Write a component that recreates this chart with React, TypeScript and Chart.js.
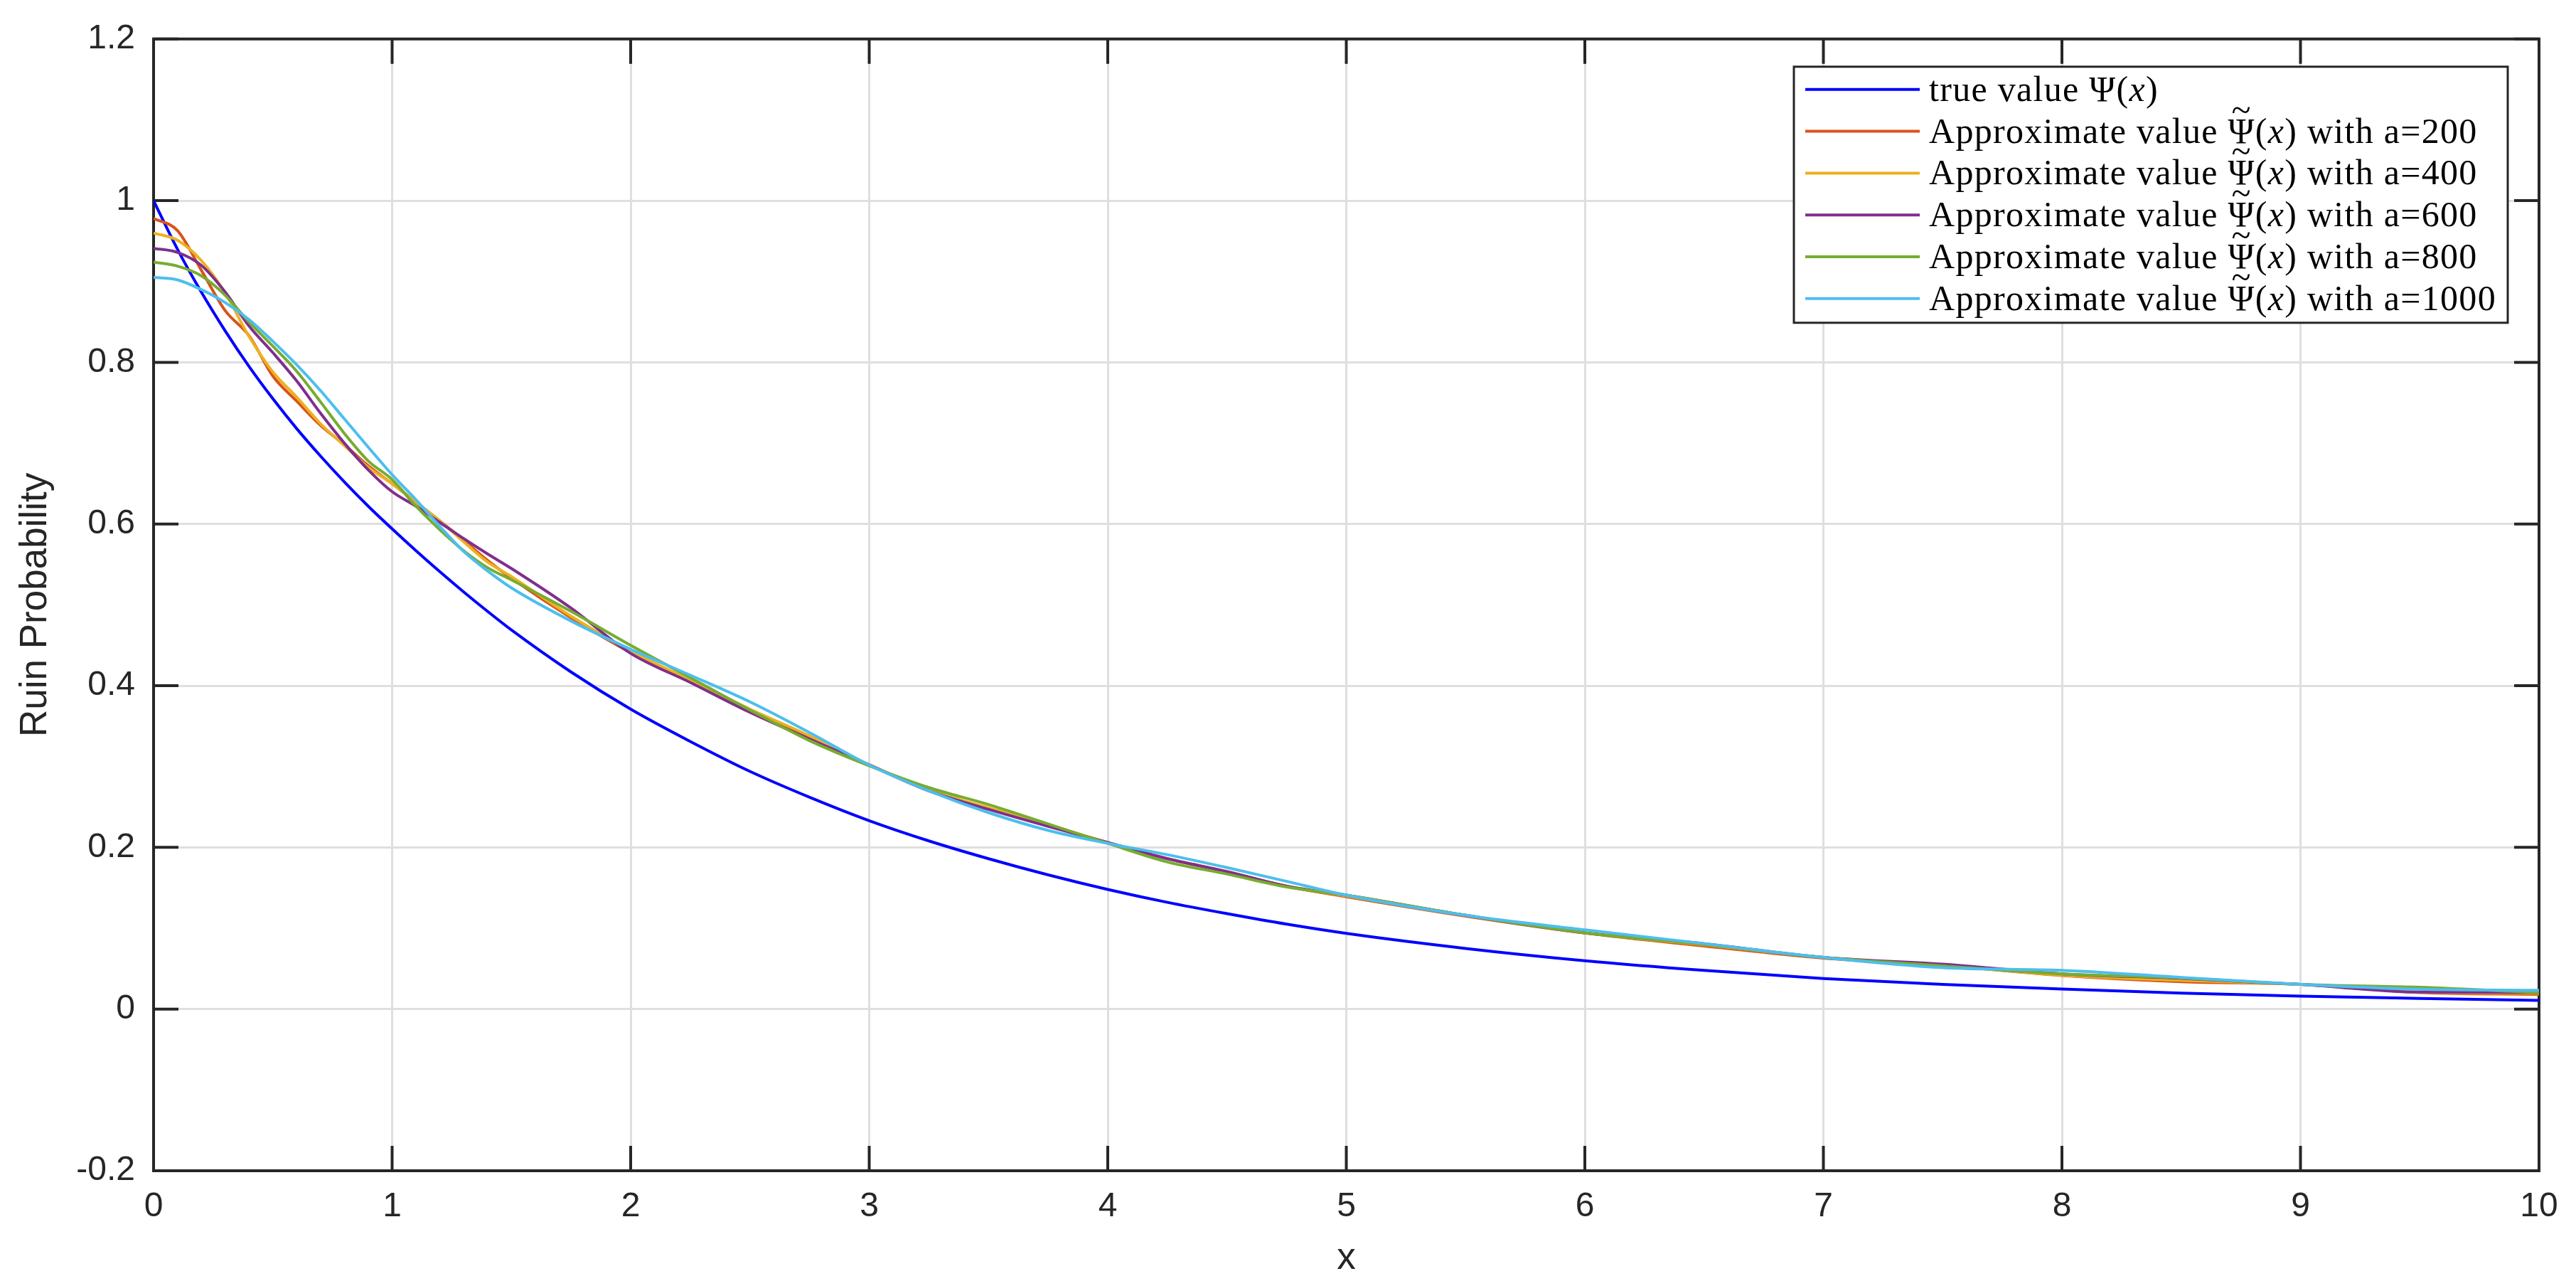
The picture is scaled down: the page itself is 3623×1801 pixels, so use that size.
import React, { useEffect, useRef } from "react";
import { Chart, registerables } from "chart.js";

Chart.register(...registerables);

// ---------- data ----------
const X_VALUES = [
  0, 0.1, 0.2, 0.3, 0.4, 0.5, 0.6, 0.7, 0.8, 0.9, 1.0, 1.1, 1.2, 1.3, 1.4, 1.5,
  1.75, 2, 2.25, 2.5, 2.75, 3, 3.25, 3.5, 3.75, 4, 4.25, 4.5, 4.75, 5,
  5.5, 6, 6.5, 7, 7.5, 8, 8.5, 9, 9.5, 10,
];

const TRUE_VALUES = [
  1.0, 0.94, 0.887, 0.839, 0.795, 0.755, 0.718, 0.684, 0.652, 0.622, 0.594, 0.567, 0.541, 0.516, 0.492, 0.469,
  0.417, 0.371, 0.331, 0.294, 0.262, 0.233, 0.208, 0.186, 0.166, 0.148, 0.132, 0.118, 0.105, 0.0936,
  0.075, 0.0598, 0.0478, 0.0378, 0.0305, 0.0247, 0.0198, 0.016, 0.0132, 0.0107,
];

const APPROX_A200 = [
  0.978, 0.963, 0.914, 0.864, 0.833, 0.783, 0.752, 0.722, 0.698, 0.672, 0.65, 0.627, 0.604, 0.58, 0.555, 0.533,
  0.484, 0.441, 0.406, 0.369, 0.336, 0.302, 0.27, 0.248, 0.227, 0.206, 0.186, 0.17, 0.152, 0.139,
  0.115, 0.094, 0.078, 0.063, 0.054, 0.0416, 0.0339, 0.0305, 0.0205, 0.0183,
];

const APPROX_A400 = [
  0.96, 0.951, 0.926, 0.886, 0.832, 0.788, 0.757, 0.724, 0.697, 0.67, 0.65, 0.627, 0.604, 0.578, 0.553, 0.535,
  0.486, 0.443, 0.407, 0.371, 0.338, 0.302, 0.271, 0.249, 0.228, 0.206, 0.186, 0.17, 0.152, 0.14,
  0.116, 0.0944, 0.0795, 0.0639, 0.054, 0.042, 0.0355, 0.0305, 0.021, 0.0195,
];

const APPROX_A600 = [
  0.941, 0.936, 0.92, 0.887, 0.845, 0.812, 0.777, 0.737, 0.7, 0.667, 0.64, 0.622, 0.602, 0.582, 0.563, 0.545,
  0.496, 0.44, 0.404, 0.367, 0.334, 0.302, 0.27, 0.247, 0.226, 0.206, 0.186, 0.17, 0.152, 0.141,
  0.116, 0.0944, 0.081, 0.0639, 0.0555, 0.0436, 0.038, 0.0305, 0.021, 0.0205,
];

const APPROX_A800 = [
  0.924, 0.919, 0.907, 0.883, 0.85, 0.82, 0.789, 0.751, 0.712, 0.678, 0.655, 0.622, 0.593, 0.567, 0.546, 0.531,
  0.492, 0.45, 0.41, 0.37, 0.332, 0.301, 0.274, 0.253, 0.229, 0.205, 0.182, 0.167, 0.151, 0.141,
  0.116, 0.0944, 0.08, 0.0639, 0.0535, 0.0436, 0.0385, 0.0305, 0.027, 0.0203,
];

const APPROX_A1000 = [
  0.905, 0.902, 0.89, 0.874, 0.853, 0.826, 0.797, 0.765, 0.73, 0.695, 0.661, 0.63, 0.597, 0.566, 0.542, 0.521,
  0.48, 0.445, 0.413, 0.38, 0.342, 0.302, 0.27, 0.243, 0.221, 0.205, 0.191, 0.175, 0.158, 0.141,
  0.116, 0.098, 0.081, 0.0639, 0.0512, 0.0479, 0.0392, 0.0305, 0.0245, 0.0232,
];

const SERIES_LABELS = [
  "true value Ψ(x)",
  "Approximate value Ψ̃(x) with a=200",
  "Approximate value Ψ̃(x) with a=400",
  "Approximate value Ψ̃(x) with a=600",
  "Approximate value Ψ̃(x) with a=800",
  "Approximate value Ψ̃(x) with a=1000",
];

const SERIES_COLORS = ["#0000FF", "#D95319", "#EDB120", "#7E2F8E", "#77AC30", "#4DBEEE"];

const X_TICKS = [0, 1, 2, 3, 4, 5, 6, 7, 8, 9, 10];
const Y_TICKS = [-0.2, 0, 0.2, 0.4, 0.6, 0.8, 1.0, 1.2];

const X_TITLE = "x";
const Y_TITLE = "Ruin Probability";

// ---------- styling ----------
const SANS = '"Liberation Sans", Arial, Helvetica, sans-serif';
const SERIF = '"Liberation Serif", "Times New Roman", serif';
const AXIS_COLOR = "#262626";
const GRID_COLOR = "#dfdfdf";
const TICK_LEN = 35;
const LEGEND_FONT = 50;
const LEGEND_TARGET_W = 798;

function fmt(v: number): string {
  return String(Number(v.toFixed(1)));
}

// draws (or measures) a legend label with a math-style Ψ / Ψ̃ and italic x
function richText(ctx: CanvasRenderingContext2D, label: string, x: number, y: number, size: number, draw: boolean): number {
  const m = label.match(/^(.*?)(Ψ\u0303|Ψ)\(x\)(.*)$/);
  const regular = `${size}px ${SERIF}`;
  const italic = `italic ${size}px ${SERIF}`;
  let cx = x;
  const seg = (t: string, f: string) => {
    ctx.font = f;
    if (draw) ctx.fillText(t, cx, y);
    cx += ctx.measureText(t).width;
  };
  if (!m) {
    seg(label, regular);
    return cx - x;
  }
  seg(m[1], regular);
  const psiStart = cx;
  seg("Ψ", regular);
  if (m[2] !== "Ψ" && draw) {
    ctx.font = regular;
    const w = ctx.measureText("Ψ").width;
    const prevAlign = ctx.textAlign;
    ctx.textAlign = "center";
    ctx.fillText("~", psiStart + w / 2, y - size * 0.6);
    ctx.textAlign = prevAlign;
  }
  seg("(", regular);
  seg("x", italic);
  seg(")", regular);
  seg(m[3], regular);
  return cx - x;
}

const framePlugin = {
  id: "matlabFrame",
  beforeDatasetsDraw(chart: any) {
    const { ctx, chartArea } = chart;
    const { left, right, top, bottom } = chartArea;
    const xs = chart.scales.x;
    const ys = chart.scales.y;
    ctx.save();
    ctx.strokeStyle = AXIS_COLOR;
    ctx.lineWidth = 4;
    ctx.beginPath();
    X_TICKS.forEach((v) => {
      const px = xs.getPixelForValue(v);
      ctx.moveTo(px, bottom);
      ctx.lineTo(px, bottom - TICK_LEN);
      ctx.moveTo(px, top);
      ctx.lineTo(px, top + TICK_LEN);
    });
    Y_TICKS.forEach((v) => {
      const py = ys.getPixelForValue(v);
      ctx.moveTo(left, py);
      ctx.lineTo(left + TICK_LEN, py);
      ctx.moveTo(right, py);
      ctx.lineTo(right - TICK_LEN, py);
    });
    ctx.stroke();
    ctx.strokeRect(left, top, right - left, bottom - top);
    ctx.restore();
  },
};

const legendPlugin = {
  id: "boxLegend",
  afterDatasetsDraw(chart: any) {
    const { ctx, chartArea } = chart;
    const boxRight = chartArea.right - 44;
    const boxTop = chartArea.top + 39;
    const boxW = 1004;
    const boxH = 360;
    const boxLeft = boxRight - boxW;
    ctx.save();
    ctx.fillStyle = "#ffffff";
    ctx.fillRect(boxLeft, boxTop, boxW, boxH);
    ctx.strokeStyle = AXIS_COLOR;
    ctx.lineWidth = 3;
    ctx.strokeRect(boxLeft, boxTop, boxW, boxH);

    // letter spacing so the longest entry has the reference width
    ctx.textAlign = "left";
    ctx.textBaseline = "alphabetic";
    (ctx as any).letterSpacing = "0px";
    let maxW = 0;
    let maxChars = 1;
    chart.data.datasets.forEach((ds: any) => {
      const w = richText(ctx, ds.label, 0, 0, LEGEND_FONT, false);
      if (w > maxW) {
        maxW = w;
        maxChars = ds.label.replace(/\u0303/g, "").length;
      }
    });
    const spacing = Math.max(0, (LEGEND_TARGET_W - maxW) / maxChars);
    (ctx as any).letterSpacing = `${spacing.toFixed(2)}px`;

    const rowH = 58.8;
    const firstY = boxTop + 32;
    chart.data.datasets.forEach((ds: any, i: number) => {
      const cy = firstY + i * rowH;
      ctx.strokeStyle = ds.borderColor;
      ctx.lineWidth = 4;
      ctx.beginPath();
      ctx.moveTo(boxLeft + 16, cy);
      ctx.lineTo(boxLeft + 177, cy);
      ctx.stroke();
      ctx.fillStyle = "#000000";
      richText(ctx, ds.label, boxLeft + 190, cy + 16, LEGEND_FONT, true);
    });
    ctx.restore();
  },
};

export default function App() {
  const ref = useRef<HTMLCanvasElement | null>(null);

  useEffect(() => {
    const canvas = ref.current;
    if (!canvas) return;
    const seriesValues = [TRUE_VALUES, APPROX_A200, APPROX_A400, APPROX_A600, APPROX_A800, APPROX_A1000];
    const datasets = seriesValues.map((vals, i) => ({
      label: SERIES_LABELS[i],
      data: X_VALUES.map((x, j) => ({ x, y: vals[j] })),
      borderColor: SERIES_COLORS[i],
      backgroundColor: SERIES_COLORS[i],
      borderWidth: 4,
      pointRadius: 0,
      pointHoverRadius: 0,
      fill: false,
      cubicInterpolationMode: "monotone" as const,
      order: seriesValues.length - i,
    }));

    const chart = new Chart(canvas, {
      type: "line",
      data: { datasets },
      plugins: [framePlugin, legendPlugin],
      options: {
        responsive: false,
        animation: false,
        devicePixelRatio: 1,
        layout: { padding: { left: 0, right: 52, top: 42, bottom: 0 } },
        plugins: {
          legend: { display: false },
          tooltip: { enabled: false },
          title: { display: false },
        },
        scales: {
          x: {
            type: "linear",
            position: "bottom",
            min: 0,
            max: 10,
            afterBuildTicks: (s: any) => {
              s.ticks = X_TICKS.map((v) => ({ value: v }));
            },
            afterFit: (s: any) => {
              s.height = 155;
            },
            grid: { color: GRID_COLOR, lineWidth: 3, drawTicks: false },
            border: { display: false },
            ticks: {
              autoSkip: false,
              maxRotation: 0,
              padding: 22,
              color: AXIS_COLOR,
              font: { family: SANS, size: 48 },
              callback: (v: any) => fmt(Number(v)),
            },
            title: {
              display: true,
              text: X_TITLE,
              color: AXIS_COLOR,
              font: { family: SANS, size: 53 },
              padding: { top: 0, bottom: 0 },
            },
          },
          y: {
            type: "linear",
            position: "left",
            min: -0.2,
            max: 1.2,
            afterBuildTicks: (s: any) => {
              s.ticks = Y_TICKS.map((v) => ({ value: v }));
            },
            afterFit: (s: any) => {
              s.width = 216;
            },
            grid: { color: GRID_COLOR, lineWidth: 3, drawTicks: false },
            border: { display: false },
            ticks: {
              autoSkip: false,
              padding: 26,
              color: AXIS_COLOR,
              font: { family: SANS, size: 48 },
              callback: (v: any) => fmt(Number(v)),
            },
            title: {
              display: true,
              text: Y_TITLE,
              color: AXIS_COLOR,
              font: { family: SANS, size: 53 },
              padding: { top: 19, bottom: 0 },
            },
          },
        },
      },
    });

    return () => chart.destroy();
  }, []);

  return (
    <div style={{ position: "absolute", left: 0, top: 0, width: 3623, height: 1801, background: "#ffffff" }}>
      <canvas ref={ref} width={3623} height={1801} style={{ width: 3623, height: 1801, display: "block" }} />
    </div>
  );
}
